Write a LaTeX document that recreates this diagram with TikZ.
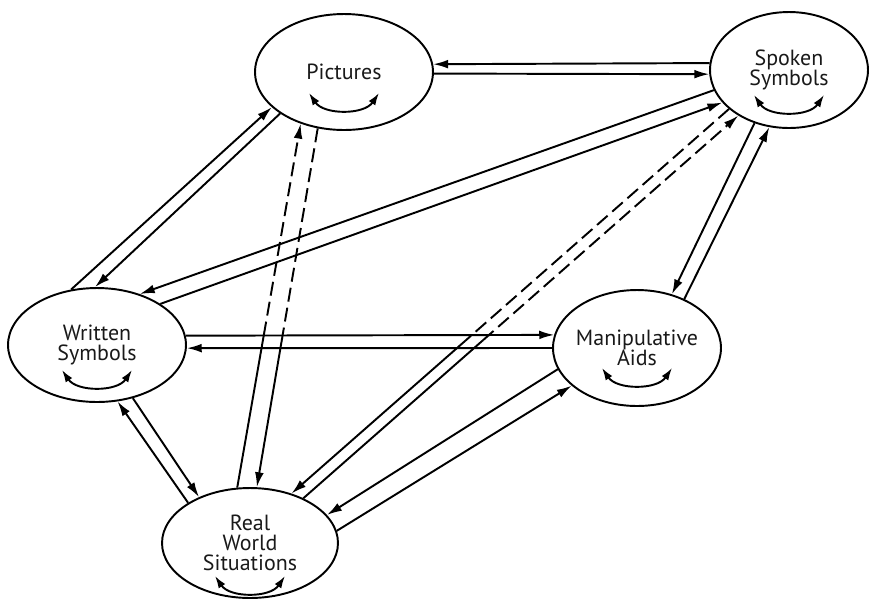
\documentclass[tikz,border=0pt]{standalone}
\usepackage{fontspec}
\setmainfont{PT Sans}
\usetikzlibrary{shapes.geometric,arrows.meta,calc}

\tikzset{
	bubble/.style={shape=ellipse,draw=black,line width=1.1pt,inner sep=-4mm,align=center,text=black!90,font=\fontsize{12.5}{11.5}\selectfont},
	oneway/.style={line width=1.1pt,-{Latex[length=8.5pt,width=5pt]}},
	bare/.style={line width=1.1pt},
	dashway/.style={line width=1.1pt,dash pattern=on 8pt off 3.5pt,-{Latex[length=8.5pt,width=5pt]}},
	dashbare/.style={line width=1.1pt,dash pattern=on 8pt off 3.5pt},
	turn/.style={line width=1.1pt,{Latex[length=7pt,width=4.5pt]}-{Latex[length=7pt,width=4.5pt]}}
}

\begin{document}
\begin{tikzpicture}[x=0.02cm,y=-0.02cm]
	\useasboundingbox (0,0) rectangle (870,600);
	\node[bubble,minimum width=3.56cm,minimum height=2.32cm] (P) at (344,72) {Pictures};
	\node[bubble,minimum width=3.16cm,minimum height=2.32cm] (S) at (789,70) {Spoken\\Symbols};
	\node[bubble,minimum width=3.56cm,minimum height=2.28cm] (W) at (97,345) {Written\\Symbols};
	\node[bubble,minimum width=3.36cm,minimum height=2.32cm] (M) at (637,348) {Manipulative\\Aids};
	\node[bubble,minimum width=3.52cm,minimum height=2.2cm] (R) at (250,543) {Real\\World\\Situations};
	% pictures / spoken
	\draw[oneway] (S.175) -- (P.5.8);
	\draw[oneway] (P.-1.9) -- (S.183.5);
	% pictures / written
	\draw[oneway] (W.115) -- (P.206);
	\draw[oneway] (P.213.5) -- (W.92);
	% spoken / written
	\draw[oneway] (S.195.6) -- (W.50);
	\draw[oneway] (W.33.7) -- (S.206.3);
	% written / manipulative
	\draw[oneway] (W.6.5) -- (M.171);
	\draw[oneway] (M.180.7) -- (W.-2.6);
	% written / real
	\draw[oneway] (R.147.6) -- (W.-70);
	\draw[oneway] (W.-56) -- (R.138.5);
	% pictures / real, dashed above the middle
	\coordinate (pr1) at ($(R.103)!0.418!(P.230)$);
	\coordinate (pr2) at ($(P.245)!0.579!(R.83)$);
	\draw[bare] (R.103) -- (pr1);
	\draw[dashway] (pr1) -- (P.230);
	\draw[dashbare] (P.245) -- (pr2);
	\draw[oneway] (pr2) -- (R.83);
	% spoken / real, dashed above the middle
	\coordinate (sr1) at ($(R.50.5)!0.397!(S.213.7)$);
	\coordinate (sr2) at ($(R.40.3)!0.413!(S.222.8)$);
	\draw[dashbare] (S.213.7) -- (sr1);
	\draw[oneway] (sr1) -- (R.50.5);
	\draw[bare] (R.40.3) -- (sr2);
	\draw[dashway] (sr2) -- (S.222.8);
	% spoken / manipulative
	\draw[oneway] (S.237.3) -- (M.57.7);
	\draw[oneway] (M.46.6) -- (S.251.9);
	% manipulative / real
	\draw[oneway] (M.195.4) -- (R.20.4);
	\draw[oneway] (R.8.7) -- (M.210.2);
	% small two-way arcs
	\foreach \n/\d in {P/21,S/25,W/25,M/20,R/33}
		\draw[turn] ([shift={(-35,\d)}]\n.center) .. controls +(15,22) and +(-15,22) .. ([shift={(35,\d)}]\n.center);
\end{tikzpicture}
\end{document}
